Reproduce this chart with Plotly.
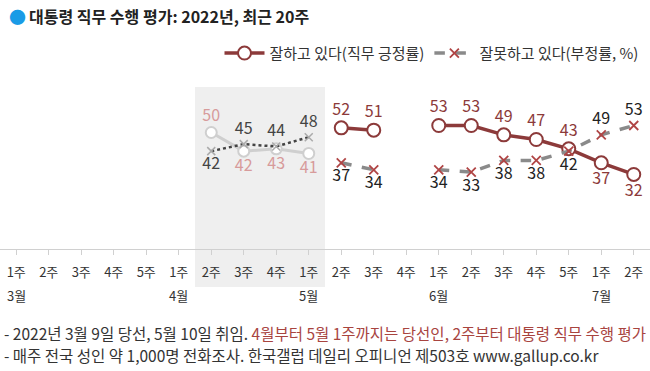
import plotly.graph_objects as go

weeks = ["1주", "2주", "3주", "4주", "5주",
         "1주", "2주", "3주", "4주",
         "1주", "2주", "3주", "4주",
         "1주", "2주", "3주", "4주", "5주",
         "1주", "2주"]
months = ["3월", "4월", "5월", "6월", "7월"]
month_idx = [0, 5, 9, 13, 18]

# 긍정률 / 부정률 (None = no survey)
approve = [None, None, None, None, None, None, 50, 42, 43, 41,
           52, 51, None, 53, 53, 49, 47, 43, 37, 32]
disapprove = [None, None, None, None, None, None, 42, 45, 44, 48,
              37, 34, None, 34, 33, 38, 38, 42, 49, 53]

# label position: True = above the point
approve_above = [True]*20
for i in (7, 8, 9, 18, 19):
    approve_above[i] = False
disapprove_above = [False]*20
for i in (7, 8, 9, 18, 19):
    disapprove_above[i] = True

x = list(range(20))
pre = range(6, 10)
post = range(10, 20)

FONT = "Noto Sans CJK KR"
MAROON = "#8c3a3a"
fig = go.Figure()

def seg(vals, idxs):
    return [vals[i] if i in idxs else None for i in range(20)]

def pos(flags, idxs):
    return ["top center" if flags[i] else "bottom center" for i in range(20)]

def txt(vals, idxs):
    return [str(vals[i]) if (i in idxs and vals[i] is not None) else "" for i in range(20)]

# pre-inauguration (president-elect) period
fig.add_trace(go.Scatter(
    x=x, y=seg(approve, pre), mode="lines+markers+text",
    line=dict(color="#cfcfcf", width=3),
    marker=dict(symbol="circle", size=11, color="white", line=dict(color="#cfcfcf", width=2)),
    text=txt(approve, pre), textposition=pos(approve_above, pre),
    textfont=dict(color="#d79b9b", size=16, family=FONT),
    showlegend=False, hoverinfo="skip"))
fig.add_trace(go.Scatter(
    x=x, y=seg(disapprove, pre), mode="lines+markers+text",
    line=dict(color="#444444", width=2.5, dash="dot"),
    marker=dict(symbol="x-thin", size=8, color="#aaaaaa", line=dict(color="#aaaaaa", width=1.5)),
    text=txt(disapprove, pre), textposition=pos(disapprove_above, pre),
    textfont=dict(color="#444444", size=16, family=FONT),
    showlegend=False, hoverinfo="skip"))

# presidency period
fig.add_trace(go.Scatter(
    x=x, y=seg(approve, post), mode="lines+markers+text",
    name="잘하고 있다(직무 긍정률)",
    line=dict(color=MAROON, width=3.5),
    marker=dict(symbol="circle", size=13, color="white", line=dict(color=MAROON, width=2)),
    text=txt(approve, post), textposition=pos(approve_above, post),
    textfont=dict(color=MAROON, size=16, family=FONT),
    hoverinfo="skip"))
fig.add_trace(go.Scatter(
    x=x, y=seg(disapprove, post), mode="lines+markers+text",
    name="잘못하고 있다(부정률, %)",
    line=dict(color="#8a8a8a", width=3.5, dash="dash"),
    marker=dict(symbol="x-thin", size=9, color="#b04545", line=dict(color="#b04545", width=1.8)),
    text=txt(disapprove, post), textposition=pos(disapprove_above, post),
    textfont=dict(color="#222222", size=16, family=FONT),
    hoverinfo="skip"))

# shaded president-elect period
fig.add_shape(type="rect", xref="x", yref="paper", x0=5.5, x1=9.5, y0=-0.163, y1=0.695,
              fillcolor="#efefef", line_width=0, layer="below")

annotations = []
for m, i in zip(months, month_idx):
    annotations.append(dict(x=i, y=-0.2, xref="x", yref="paper", text=m, showarrow=False,
                            font=dict(size=13, color="#333333", family=FONT),
                            xanchor="center", yanchor="middle"))
# title
annotations.append(dict(x=0.01, y=1.0, xref="paper", yref="paper", showarrow=False,
                        text="●", font=dict(size=17, color="#1a9be6", family=FONT),
                        xanchor="left", yanchor="middle"))
annotations.append(dict(x=0.042, y=1.0, xref="paper", yref="paper", showarrow=False,
                        text="<b>대통령 직무 수행 평가: 2022년, 최근 20주</b>",
                        font=dict(size=16, color="#222222", family=FONT),
                        xanchor="left", yanchor="middle"))
# footnotes
annotations.append(dict(x=0.003, y=-0.362, xref="paper", yref="paper", showarrow=False,
                        xanchor="left", yanchor="middle",
                        text="- 2022년 3월 9일 당선, 5월 10일 취임. "
                             "<span style='color:#a8443f'>4월부터 5월 1주까지는 당선인, 2주부터 대통령 직무 수행 평가</span>",
                        font=dict(size=15.5, color="#333333", family=FONT)))
annotations.append(dict(x=0.003, y=-0.455, xref="paper", yref="paper", showarrow=False,
                        xanchor="left", yanchor="middle",
                        text="- 매주 전국 성인 약 1,000명 전화조사. 한국갤럽 데일리 오피니언 제503호 www.gallup.co.kr",
                        font=dict(size=15.5, color="#333333", family=FONT)))

fig.update_layout(
    width=650, height=371,
    margin=dict(l=0, r=0, t=16, b=122),
    paper_bgcolor="white", plot_bgcolor="rgba(0,0,0,0)",
    font=dict(family=FONT, color="#333333"),
    annotations=annotations,
    legend=dict(orientation="h", x=0.99, xanchor="right", y=0.84, yanchor="middle",
                font=dict(size=15, color="#333333", family=FONT),
                bgcolor="rgba(0,0,0,0)", itemwidth=40, traceorder="normal"),
    xaxis=dict(range=[-0.5, 19.5], tickmode="array", tickvals=x, ticktext=weeks,
               showgrid=False, zeroline=False, showline=True, linecolor="#d0d0d0", linewidth=1,
               ticks="outside", ticklen=5, tickcolor="#d0d0d0",
               tickfont=dict(size=13, color="#333333", family=FONT), ticklabelstandoff=6,
               fixedrange=True),
    yaxis=dict(range=[0, 100], visible=False, showgrid=False, zeroline=False, fixedrange=True),
)

fig.write_html("out.html", config={"displayModeBar": False},
               post_script="document.body.style.margin='0';")
